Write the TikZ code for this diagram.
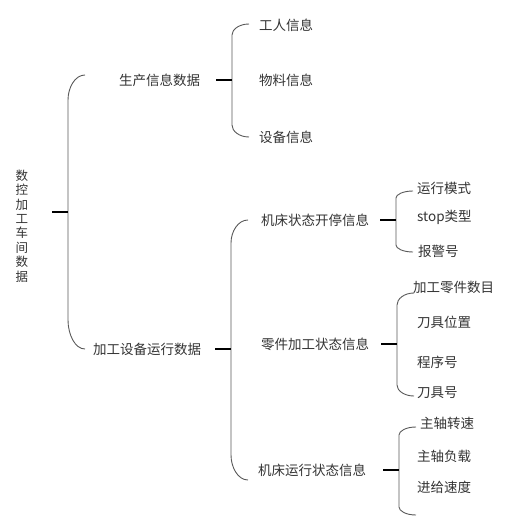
\documentclass[tikz,border=0pt]{standalone}
\usepackage{fontspec}
\setmainfont{Noto Sans CJK SC}
\usetikzlibrary{positioning}
\definecolor{mtext}{rgb}{0.2, 0.2, 0.2}
\definecolor{mline}{rgb}{0.35, 0.35, 0.35}
\tikzset{item/.style = {anchor = west, inner sep = 0, text = mtext, font = \fontsize{13.5}{15}\selectfont}}
\tikzset{bar/.style = {draw = mline, line width = 0.9}}
\tikzset{tick/.style = {draw = black, line width = 1.3}}

\begin{document}
\begin{tikzpicture}[x = 1pt, y = -1pt]
    \useasboundingbox (0, 0) rectangle (515, 517);

    \node [item, anchor = center, align = center, font = \fontsize{12.5}{14.4}\selectfont] (root) at (22, 226) {数\\控\\加\\工\\车\\间\\数\\据};

    \foreach \n/\x/\y/\t in {prod/119/80/生产信息数据, equip/93/349/加工设备运行数据,
      worker/259/25/工人信息, material/259/80/物料信息, device/259/137/设备信息,
      onoff/261/220/机床状态开停信息, part/261/344/零件加工状态信息, run/258/470/机床运行状态信息,
      mode/417/188/运行模式, stop/417/217/stop类型, alarm/418/251/报警号,
      count/413/287/加工零件数目, toolpos/417/322/刀具位置, prog/417/362/程序号, toolno/417/393/刀具号,
      speed/420/423/主轴转速, load/417/456/主轴负载, feed/417/487/进给速度} {
      \node [item] (\n) at (\x, \y) {\t};
    }

    \foreach \n/\x/\ya/\yb/\yc/\yd/\ym in {r/68/75/100/320/349/212, p/232/24/35/125/137/80,
      e/231/220/243/455/480/349, o/396/191/198/245/252/220,
      q/397/293/305/385/396/344, m/399/427/435/507/515/470} {
      \draw [bar] (\x+17, \ya) .. controls (\x+7, \ya) and (\x, {\yb-0.5*(\yb-\ya)}) .. (\x, \yb)
        -- (\x, \yc) .. controls (\x, {\yc+0.5*(\yd-\yc)}) and (\x+7, \yd) .. (\x+17, \yd);
      \coordinate (\n) at (\x, \ym);
      \draw [tick] ([xshift = -16] \n) -- (\n);
    }
  \end{tikzpicture}
\end{document}
